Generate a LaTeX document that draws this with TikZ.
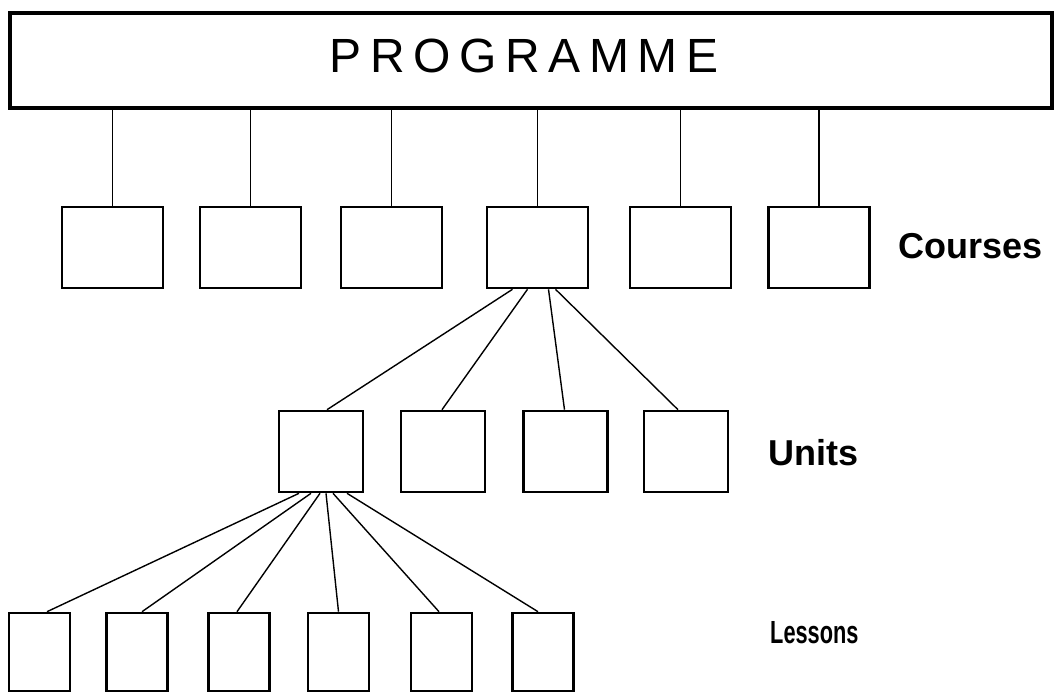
\documentclass[tikz,border=0pt]{standalone}
\usepackage{fontspec}
\setmainfont{Liberation Sans}
\newfontfamily\progfont[LetterSpace=18]{Liberation Sans}
\tikzset{
  box/.style={draw,line width=2.6pt,inner sep=0pt},
  course/.style={box,minimum width=101pt,minimum height=81pt},
  unit/.style={box,minimum width=84pt,minimum height=81pt},
  lesson/.style={box,minimum width=61pt,minimum height=78pt},
  link/.style={line width=1.4pt},
  level/.style={anchor=west,inner sep=0pt,font=\fontsize{36}{36}\selectfont\bfseries}
}
\begin{document}
\begin{tikzpicture}[x=1pt,y=-1pt]
\useasboundingbox (0,0) rectangle (1056,693);
\node[draw,line width=4pt,minimum width=1042pt,minimum height=95pt] (prog) at (531,60.5) {};
\node[inner sep=0pt] (progtext) at (524,56)
  {\progfont\fontsize{48}{48}\selectfont PROGRAMME};
  \foreach \xc[count=\i] in {112.5,250.5,391.5,537.5,680.5,819}
    {\node[course] (c\i) at (\xc,247.5) {};
     \draw[link] (c\i.north) -- (c\i.north |- prog.south);}
  \foreach \xc[count=\i] in {321,443,565.5,686}
    \node[unit] (u\i) at (\xc,451.5) {};
  \foreach \xc[count=\i] in {39.5,137,239,338.5,441.5,543}
    \node[lesson] (l\i) at (\xc,652) {};
  \foreach \a/\b[count=\i] in {-25/6,-10/-1,11/-1,18/-8}
    \draw[link] ([xshift=\a pt]c4.south) -- ([xshift=\b pt]u\i.north);
  \foreach \a/\b[count=\i] in {-22/7.5,-10/5,-1/-2,5/0,12/-2.5,26/-5}
    \draw[link] ([xshift=\a pt]u1.south) -- ([xshift=\b pt]l\i.north);
\node[level] (courses) at (898,246) {Courses};
\node[level] (units) at (768,453) {Units};
\node[level] (lessons) at (770,633) {\fontsize{32}{32}\selectfont\scalebox{0.68}[1]{Lessons}};
\end{tikzpicture}
\end{document}
